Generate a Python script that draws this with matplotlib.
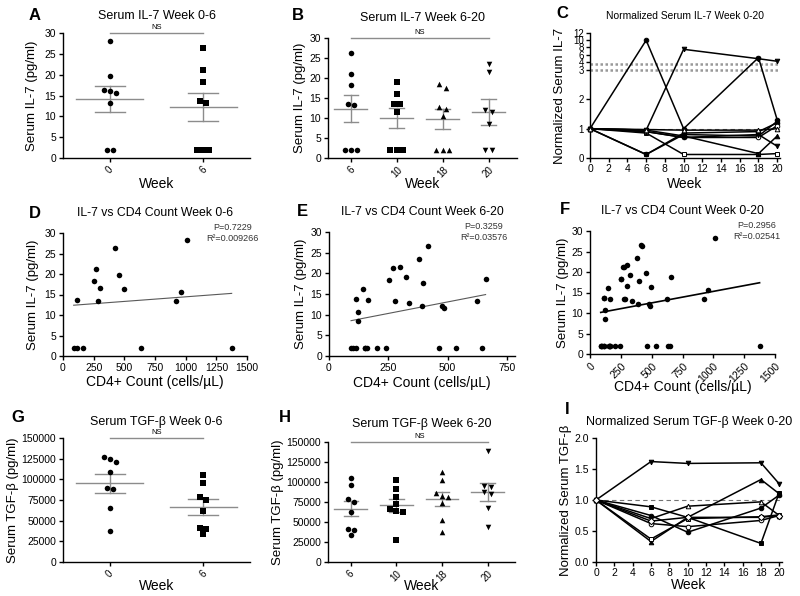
import numpy as np
import matplotlib
matplotlib.use("Agg")
import matplotlib.pyplot as plt

plt.rcParams['font.family'] = ['Liberation Sans', 'DejaVu Sans']
plt.rcParams['axes.linewidth'] = 1.0
plt.rcParams['xtick.labelsize'] = 7.5
plt.rcParams['ytick.labelsize'] = 7.5

# ---- data ----
# serum IL-7 (pg/ml) per week
il7_w0 = [28.2, 19.7, 16.4, 16.2, 15.5, 13.2, 2, 2]
il7_w6 = [26.3, 21.1, 18.2, 13.6, 13.3, 2, 2, 2]
il7_w10 = [19.1, 16.1, 13.4, 13.4, 11.5, 2, 2, 2]
il7_w18 = [18.6, 17.5, 12.8, 12.2, 10.6, 2, 2, 2]
il7_w20 = [23.5, 21.5, 12.0, 11.6, 8.5, 2, 2]

# serum TGF-beta (pg/ml) per week
tgf_w0 = [127000, 124000, 121000, 109000, 89000, 88000, 65000, 38000]
tgf_w6 = [105000, 96000, 79000, 75000, 62000, 41000, 40000, 34000]
tgf_w10 = [103000, 91000, 81000, 72000, 66000, 64000, 62000, 27000]
tgf_w18 = [112000, 103000, 86000, 82000, 81000, 74000, 52000, 38000]
tgf_w20 = [139000, 95000, 94000, 87000, 85000, 67000, 44000]

# CD4 count vs IL-7, weeks 0-6
cd4_d = [87, 117, 117, 163, 255, 272, 283, 302, 421, 457, 495, 633, 924, 959, 1011, 1375]
il7_d = [2, 2, 13.7, 2, 18.3, 21.3, 13.3, 16.5, 26.4, 19.7, 16.3, 2, 13.3, 15.6, 28.3, 2]
# CD4 count vs IL-7, weeks 6-20
cd4_e = [93, 100, 114, 113, 123, 121, 144, 150, 153, 161, 163, 203, 240, 251, 271, 279,
         301, 326, 339, 379, 390, 396, 416, 464, 476, 483, 536, 624, 647, 660]
il7_e = [2, 2, 2, 13.7, 10.7, 8.5, 16.2, 2, 2, 2, 13.5, 2, 2, 18.3, 21.3, 13.3,
         21.6, 19.2, 12.9, 23.5, 12.1, 17.7, 26.5, 2, 12.1, 11.7, 2, 13.4, 2, 18.7]

# normalized series, weeks 0-20
norm_weeks = [0, 6, 10, 18, 20]
norm_il7 = [
    [1, 10, 1.0, 5.2, 1.3],
    [1, 0.95, 7.5, 4.9, 4.2],
    [1, 0.12, 0.8, 0.75, 1.25],
    [1, 0.12, 0.85, 0.9, 1.2],
    [1, 0.85, 0.12, 0.12, 0.15],
    [1, 0.9, 0.7, 0.7, 1.1],
    [1, 0.95, 0.75, 0.15, 0.75],
    [1, 0.9, 0.7, 0.8, 0.4],
    [1, 0.97, 0.95, 0.95, 1.0],
]
norm_tgf = [
    [1, 1.62, 1.59, 1.6, 1.26],
    [1, 0.89, 0.72, 0.30, 1.12],
    [1, 0.33, 0.72, 1.33, 1.10],
    [1, 0.75, 0.48, 0.87, 1.08],
    [1, 0.70, 0.90, 0.97, 0.75],
    [1, 0.62, 0.57, 0.67, 0.75],
    [1, 0.37, 0.70, 0.73, 0.76],
    [1, 0.66, 0.72, 0.72, 0.75],
]
mk_il7 = [('o', 'k'), ('v', 'k'), ('s', 'k'), ('o', 'k'), ('s', 'w'),
          ('o', 'w'), ('^', 'k'), ('v', 'k'), ('^', 'w')]
mk_tgf = [('v', 'k'), ('s', 'k'), ('^', 'k'), ('o', 'k'), ('^', 'w'),
          ('o', 'w'), ('s', 'w'), ('D', 'w')]

W, H = 800, 596
fig = plt.figure(figsize=(8, 5.96), dpi=100)


def box(l, r, t, b):
    return [l / W, 1 - b / H, (r - l) / W, (b - t) / H]


def style(ax):
    for s in ('top', 'right'):
        ax.spines[s].set_visible(False)
    ax.tick_params(length=3, width=1, pad=2)


def swarm(vals, d, thr):
    vals = np.asarray(vals, float)
    order = np.argsort(-vals, kind='stable')
    offs = np.zeros(len(vals))
    groups, cur = [], [order[0]]
    for i in order[1:]:
        if vals[cur[-1]] - vals[i] < thr:
            cur.append(i)
        else:
            groups.append(cur)
            cur = [i]
    groups.append(cur)
    for g in groups:
        n = len(g)
        for k, i in enumerate(g):
            offs[i] = (k - (n - 1) / 2) * d
    return offs


def labels_at(ax, xl, yl):
    ax.xaxis.set_label_coords(0.5, xl)
    ax.yaxis.set_label_coords(yl, 0.5)


def dot_panel(ax, data, labels, markers, ymax, step, d, thr, ylabel, title, pad, xr):
    style(ax)
    for i, (vals, m) in enumerate(zip(data, markers)):
        x = i + swarm(vals, d, thr)
        ax.scatter(x, vals, marker=m, s=16, color='black', zorder=3,
                   clip_on=False, linewidths=0)
        mean = np.mean(vals)
        sem = np.std(vals, ddof=1) / np.sqrt(len(vals))
        g = '0.55'
        ax.plot([i - 0.36, i + 0.36], [mean, mean], color=g, lw=1)
        ax.plot([i - 0.16, i + 0.16], [mean + sem] * 2, color=g, lw=1)
        ax.plot([i - 0.16, i + 0.16], [mean - sem] * 2, color=g, lw=1)
        ax.plot([i, i], [mean - sem, mean + sem], color=g, lw=1)
    n = len(data)
    ax.plot([0, n - 1], [ymax, ymax], color='0.55', lw=1, clip_on=False)
    ax.text((n - 1) / 2, ymax * 1.015, 'NS', fontsize=5.5, ha='center', va='bottom')
    ax.set_xlim(-0.5, xr)
    ax.set_ylim(0, ymax)
    ax.set_yticks(np.arange(0, ymax + 1, step))
    ax.set_xticks(range(n))
    ax.set_xticklabels(labels, rotation=45, fontsize=7)
    ax.tick_params(axis='x', pad=1.5)
    ax.set_xlabel('Week', fontsize=10)
    ax.set_ylabel(ylabel, fontsize=9.5)
    ax.set_title(title, fontsize=9, pad=pad)


def cd4_panel(ax, x, y, title, xmax, xticks, pval, r2, lcol, lw, tx, pad, rot=0):
    style(ax)
    ax.scatter(x, y, s=16, color='black', zorder=3, clip_on=False, linewidths=0)
    k, c = np.polyfit(x, y, 1)
    xs = np.array([min(x), max(x)])
    ax.plot(xs, k * xs + c, color=lcol, lw=lw)
    ax.set_xlim(0, xmax)
    ax.set_ylim(0, 30)
    ax.set_yticks(range(0, 31, 5))
    ax.set_xticks(xticks)
    if rot:
        ax.set_xticklabels([str(v) for v in xticks], rotation=45, ha='right',
                           rotation_mode='anchor')
    ax.set_xlabel('CD4+ Count (cells/µL)', fontsize=10)
    ax.set_ylabel('Serum IL-7 (pg/ml)', fontsize=9.5)
    ax.set_title(title, fontsize=8.8, pad=pad)
    ax.text(tx, 1.0, 'P=' + pval + '\nR²=' + r2, transform=ax.transAxes,
            fontsize=6.5, ha='center', va='center', linespacing=1.3, color='0.2')


def line_panel(ax, series, marks, title, ylabel, pad, tsize):
    style(ax)
    for vals, (m, fc) in zip(series, marks):
        ax.plot(norm_weeks, vals, color='black', lw=1.1, marker=m, ms=3.3,
                mfc=fc, mec='black', mew=0.7, clip_on=False, zorder=3)
    ax.axhline(1, color='0.45', lw=0.8, ls=(0, (4, 3)))
    ax.set_xlim(0, 20.3)
    ax.set_xticks(range(0, 21, 2))
    ax.tick_params(axis='x', pad=1.5)
    ax.set_xlabel('Week', fontsize=10)
    ax.set_ylabel(ylabel, fontsize=9.5)
    ax.set_title(title, fontsize=tsize, pad=pad)


# A
ax = fig.add_axes(box(63, 250, 33, 158))
dot_panel(ax, [il7_w0, il7_w6], ['0', '6'], ['o', 's'], 30, 5, 0.065, 1.2,
          'Serum IL-7 (pg/ml)', 'Serum IL-7 Week 0-6', 10, 1.5)
labels_at(ax, -0.152, -0.134)
# B
ax = fig.add_axes(box(328, 517, 38, 158))
dot_panel(ax, [il7_w6, il7_w10, il7_w18, il7_w20], ['6', '10', '18', '20'],
          ['o', 's', '^', 'v'], 30, 5, 0.14, 1.2,
          'Serum IL-7 (pg/ml)', 'Serum IL-7 Week 6-20', 12, 3.62)
labels_at(ax, -0.158, -0.116)

# C (broken y axis)
yk = [-10, 3, 4, 100]
tk = [-10, 3, 3.273, 3.273 + 96 * 0.1235]
ax = fig.add_axes(box(590, 780, 33, 158))
ax.set_yscale('function', functions=(lambda v: np.interp(v, yk, tk),
                                     lambda v: np.interp(v, tk, yk)))
line_panel(ax, norm_il7, mk_il7, 'Normalized Serum IL-7 Week 0-20',
           'Normalized Serum IL-7', 10, 7.4)
ax.set_ylim(0, 12)
ax.set_yticks([0, 1, 2, 3, 4, 6, 8, 10, 12])
ax.set_yticklabels(['0', '1', '2', '3', '4', '6', '8', '10', '12'])
ax.tick_params(axis='y', labelsize=7, pad=1.5)
ax.yaxis.set_minor_locator(matplotlib.ticker.NullLocator())
for yb in (3.0, 3.78):
    ax.axhline(yb, color='0.6', lw=1.8, ls=(0, (1, 1)))
labels_at(ax, -0.15, -0.125)

# D
ax = fig.add_axes(box(63, 247, 233, 356))
cd4_panel(ax, cd4_d, il7_d, 'IL-7 vs CD4 Count Week 0-6', 1500,
          [0, 250, 500, 750, 1000, 1250, 1500], '0.7229', '0.009266',
          '0.35', 0.8, 0.92, 12)
labels_at(ax, -0.154, -0.13)
# E
ax = fig.add_axes(box(329, 515, 232, 356))
cd4_panel(ax, cd4_e, il7_e, 'IL-7 vs CD4 Count Week 6-20', 784,
          [0, 250, 500, 750], '0.3259', '0.03576', '0.35', 0.8, 0.83, 12)
labels_at(ax, -0.161, -0.118)
# F
ax = fig.add_axes(box(590, 775, 231, 354))
cd4_panel(ax, cd4_d + cd4_e, il7_d + il7_e, 'IL-7 vs CD4 Count Week 0-20', 1500,
          [0, 250, 500, 750, 1000, 1250, 1500], '0.2956', '0.02541',
          'black', 1.2, 0.9, 12, rot=45)
labels_at(ax, -0.215, -0.114)

# G
ax = fig.add_axes(box(63, 250, 438, 562))
dot_panel(ax, [tgf_w0, tgf_w6], ['0', '6'], ['o', 's'], 150000, 25000, 0.065, 6000,
          'Serum TGF-β (pg/ml)', 'Serum TGF-β Week 0-6', 9, 1.5)
labels_at(ax, -0.137, -0.235)
# H
ax = fig.add_axes(box(328, 515, 442, 562))
dot_panel(ax, [tgf_w6, tgf_w10, tgf_w18, tgf_w20], ['6', '10', '18', '20'],
          ['o', 's', '^', 'v'], 150000, 25000, 0.14, 6000,
          'Serum TGF-β (pg/ml)', 'Serum TGF-β Week 6-20', 11, 3.6)
labels_at(ax, -0.142, -0.235)
# I
ax = fig.add_axes(box(596, 782, 438, 562))
line_panel(ax, norm_tgf, mk_tgf, 'Normalized Serum TGF-β Week 0-20',
           'Normalized Serum TGF-β', 9, 9)
ax.set_ylim(0, 2.0)
ax.set_yticks([0, 0.5, 1.0, 1.5, 2.0])
ax.set_yticklabels(['0.0', '0.5', '1.0', '1.5', '2.0'])
labels_at(ax, -0.128, -0.129)

# panel letters
for lab, px, py in [('A', 35, 15), ('B', 298, 15), ('C', 562, 13),
                    ('D', 35, 213), ('E', 302, 212), ('F', 565, 210),
                    ('G', 18, 418), ('H', 285, 418), ('I', 567, 410)]:
    fig.text(px / W, 1 - py / H, lab, fontsize=12, fontweight='bold',
             ha='center', va='center')

fig.savefig('out.png', dpi=100)
